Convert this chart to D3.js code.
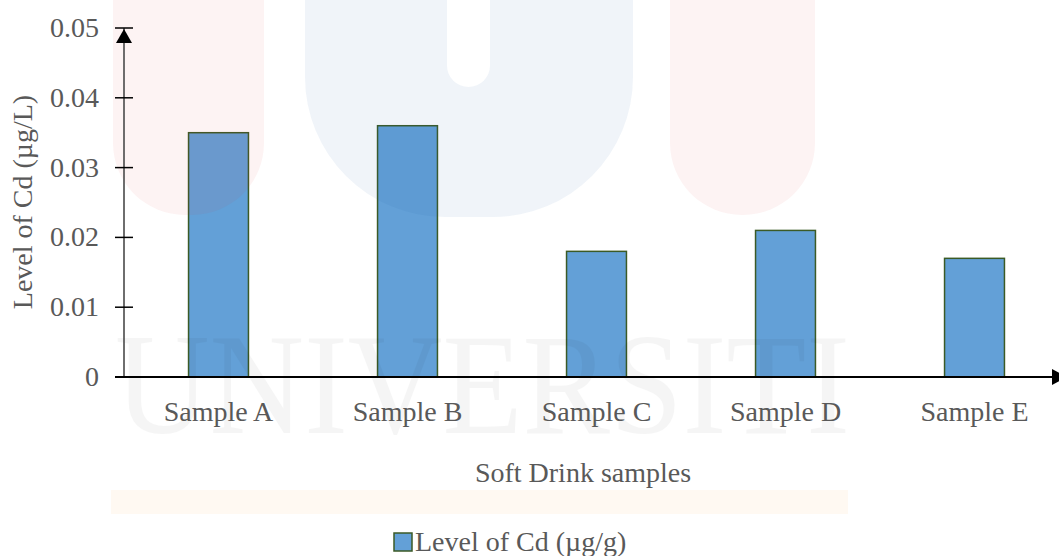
<!DOCTYPE html>
<html>
<head>
<meta charset="utf-8">
<script src="https://cdn.jsdelivr.net/npm/d3@7"></script>
<style>
  html, body { margin: 0; padding: 0; background: #fff; }
  svg { display: block; }
  text { font-family: "Liberation Serif", "Times New Roman", serif; }
</style>
</head>
<body>
<svg id="chart" width="1059" height="556"></svg>
<script>
// Cadmium levels measured in five soft drink samples
const categories = ["Sample A", "Sample B", "Sample C", "Sample D", "Sample E"];
const cdLevels = [0.035, 0.036, 0.018, 0.021, 0.017];
const yTicks = [0, 0.01, 0.02, 0.03, 0.04, 0.05];
const yTickLabels = ["0", "0.01", "0.02", "0.03", "0.04", "0.05"];
const seriesName = "Level of Cd (\u00b5g/g)";
const yTitle = "Level of Cd (\u00b5g/L)";
const xTitle = "Soft Drink samples";
const watermarkText = "UNIVERSITI";

const svg = d3.select("#chart");
const plot = { left: 124, right: 1069, top: 28, bottom: 377 };
const textColor = "#595959";
const fontSize = 28;

const x = d3.scaleBand()
  .domain(categories)
  .range([plot.left, plot.right])
  .paddingInner(0.683)
  .paddingOuter(0.3415);

const y = d3.scaleLinear()
  .domain([0, 0.05])
  .range([plot.bottom, plot.top]);

// Bars
svg.append("g")
  .selectAll("rect")
  .data(cdLevels)
  .join("rect")
  .attr("x", (d, i) => x(categories[i]))
  .attr("y", d => y(d))
  .attr("width", x.bandwidth())
  .attr("height", d => y(0) - y(d))
  .attr("fill", "#63a0d7")
  .attr("stroke", "#3b5a26")
  .attr("stroke-width", 1.5);

// Faint background emblem laid over the plot
const wm = svg.append("g").attr("pointer-events", "none");

function pill(x0, x1, bottom, r) {
  return `M${x0},-20 V${bottom - r} A${r},${r} 0 0 0 ${x0 + r},${bottom}` +
         ` H${x1 - r} A${r},${r} 0 0 0 ${x1},${bottom - r} V-20 Z`;
}
wm.append("path")
  .attr("d", pill(113, 264, 215, 72))
  .attr("fill", "#e53935").attr("opacity", 0.06);
wm.append("path")
  .attr("d", pill(670, 815, 215, 72))
  .attr("fill", "#e53935").attr("opacity", 0.06);
wm.append("path")
  .attr("d", pill(305, 633, 217, 140) + " " + pill(447, 490, 87, 21.5))
  .attr("fill-rule", "evenodd")
  .attr("fill", "#1f5fa8").attr("opacity", 0.065);
wm.append("text")
  .attr("x", 115).attr("y", 433)
  .attr("font-size", 145)
  .attr("textLength", 735)
  .attr("lengthAdjust", "spacingAndGlyphs")
  .attr("fill", "#000").attr("opacity", 0.035)
  .text(watermarkText);
wm.append("rect")
  .attr("x", 111).attr("y", 490).attr("width", 737).attr("height", 24)
  .attr("fill", "#f7941d").attr("opacity", 0.06);

// Y axis line with arrow
svg.append("line")
  .attr("x1", plot.left).attr("x2", plot.left)
  .attr("y1", y(0.05)).attr("y2", y(0))
  .attr("stroke", "#4a4a4a").attr("stroke-width", 1.6);
svg.append("path")
  .attr("d", `M${plot.left},${y(0.05) + 1} L${plot.left + 8},${y(0.05) + 15} L${plot.left - 8},${y(0.05) + 15} Z`)
  .attr("fill", "#000");

// Y ticks crossing the axis, and their labels
const yAxis = svg.append("g");
yAxis.selectAll("line.tick")
  .data(yTicks)
  .join("line")
  .attr("class", "tick")
  .attr("x1", plot.left - 9).attr("x2", plot.left + 9)
  .attr("y1", d => y(d)).attr("y2", d => y(d))
  .attr("stroke", "#000").attr("stroke-width", 1.5);
yAxis.selectAll("text")
  .data(yTicks)
  .join("text")
  .attr("x", 99)
  .attr("y", d => y(d) + 9)
  .attr("text-anchor", "end")
  .attr("font-size", fontSize)
  .attr("fill", textColor)
  .text((d, i) => yTickLabels[i]);

// X axis line with arrow
svg.append("line")
  .attr("x1", plot.left - 9).attr("x2", 1054)
  .attr("y1", y(0)).attr("y2", y(0))
  .attr("stroke", "#000").attr("stroke-width", 2);
svg.append("path")
  .attr("d", `M1052,${y(0) - 8} L1067,${y(0)} L1052,${y(0) + 8} Z`)
  .attr("fill", "#000");

// Category labels
svg.append("g")
  .selectAll("text")
  .data(categories)
  .join("text")
  .attr("x", d => x(d) + x.bandwidth() / 2)
  .attr("y", 421)
  .attr("text-anchor", "middle")
  .attr("font-size", fontSize)
  .attr("fill", textColor)
  .text(d => d);

// Axis titles
svg.append("text")
  .attr("x", 583).attr("y", 482)
  .attr("text-anchor", "middle")
  .attr("font-size", fontSize)
  .attr("fill", textColor)
  .text(xTitle);
svg.append("text")
  .attr("transform", "translate(32,202) rotate(-90)")
  .attr("text-anchor", "middle")
  .attr("font-size", fontSize)
  .attr("fill", textColor)
  .text(yTitle);

// Legend
const legend = svg.append("g");
legend.append("rect")
  .attr("x", 394).attr("y", 533).attr("width", 18).attr("height", 18)
  .attr("fill", "#63a0d7")
  .attr("stroke", "#3b5a26").attr("stroke-width", 1.5);
legend.append("text")
  .attr("x", 415).attr("y", 551)
  .attr("font-size", fontSize)
  .attr("fill", textColor)
  .text(seriesName);
</script>
</body>
</html>
